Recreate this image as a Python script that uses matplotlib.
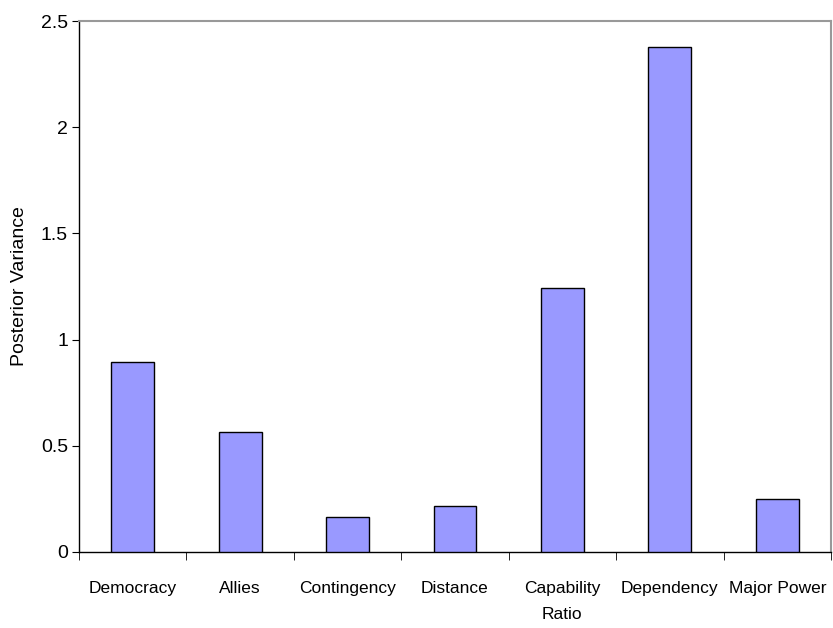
import matplotlib
matplotlib.use("Agg")
import matplotlib.pyplot as plt
import numpy as np

categories = ["Democracy", "Allies", "Contingency", "Distance", "Capability\nRatio", "Dependency", "Major Power"]
values = [0.896, 0.565, 0.167, 0.218, 1.245, 2.376, 0.251]
yticks = [0, 0.5, 1, 1.5, 2, 2.5]
ytick_labels = ["0", "0.5", "1", "1.5", "2", "2.5"]

plt.rcParams['font.family'] = ['Liberation Sans', 'DejaVu Sans']

fig = plt.figure(figsize=(8.33, 6.28), dpi=100)
ax = fig.add_axes([79/833, 1-552/628, (831-79)/833, (552-21)/628])

x = np.arange(len(categories))
ax.bar(x, values, width=0.4, color="#9999FF", edgecolor="black", linewidth=1.0, zorder=3)

ax.set_xlim(-0.5, len(categories) - 0.5)
ax.set_ylim(0, 2.5)
ax.set_yticks(yticks)
ax.set_yticklabels(ytick_labels, fontsize=14)
ax.set_xticks(x)
ax.set_xticklabels(categories, fontsize=12.5, linespacing=1.9)
ax.tick_params(axis='x', which='major', length=0, pad=21)
ax.set_xticks(np.arange(-0.5, len(categories), 1.0), minor=True)
ax.tick_params(axis='x', which='minor', length=6, direction='out', color='black')
ax.tick_params(axis='y', length=5, direction='out', pad=3)
ax.set_ylabel("Posterior Variance", fontsize=14, labelpad=9)

for s in ["top", "right"]:
    ax.spines[s].set_color("#999999")
    ax.spines[s].set_linewidth(1.5)
for s in ["left", "bottom"]:
    ax.spines[s].set_color("black")
    ax.spines[s].set_linewidth(1.0)

fig.savefig("out.png", dpi=100)
